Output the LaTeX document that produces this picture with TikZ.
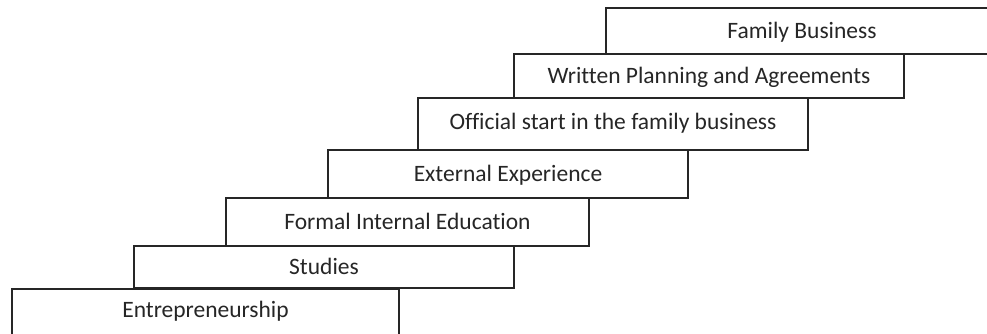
\documentclass[tikz,border=0pt]{standalone}
\usepackage{fontspec}
\setmainfont{Carlito}[Ligatures=NoCommon]
\begin{document}
\begin{tikzpicture}[x=1pt,y=-1pt,
  stepbox/.style={draw=black!85, line width=1.6pt, fill=white, inner sep=0pt,
    font=\fontsize{23.5}{26}\selectfont, text=black!85,
    text height=15pt, text depth=0pt}]
\useasboundingbox (0,0) rectangle (987,333);
\clip (0,0) rectangle (987,333);
\node[stepbox, minimum width=392pt, minimum height=46pt] (fb) at (802,31) {Family Business};
\node[stepbox, minimum width=390pt, minimum height=44pt] (wp) at (709,76) {Written Planning and Agreements};
\node[stepbox, minimum width=390pt, minimum height=52pt, text depth=4pt] (os) at (613,124) {Official start in the family business};
\node[stepbox, minimum width=360pt, minimum height=48pt] (ee) at (508,174) {External Experience};
\node[stepbox, minimum width=363pt, minimum height=48pt] (fi) at (407.5,222) {Formal Internal Education};
\node[stepbox, minimum width=380pt, minimum height=42pt] (st) at (324,267) {Studies};
\node[stepbox, minimum width=387pt, minimum height=48pt, text depth=6pt] (en) at (205.5,313) {Entrepreneurship};
\end{tikzpicture}
\end{document}
